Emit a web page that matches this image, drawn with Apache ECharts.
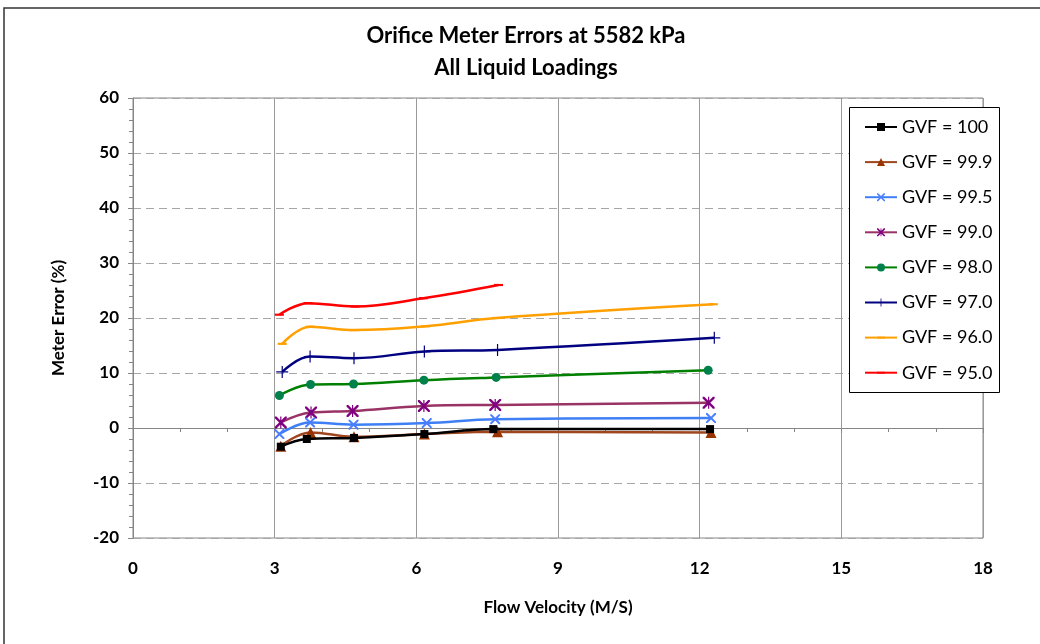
<!DOCTYPE html>
<html>
<head>
<meta charset="utf-8">
<script src="https://cdn.jsdelivr.net/npm/echarts@6/dist/echarts.min.js"></script>
<style>
  html, body { margin: 0; padding: 0; background: #fff; }
  #chart { width: 1040px; height: 644px; }
</style>
</head>
<body>
<div id="chart"></div>
<script>
// Flow velocity (m/s) and meter error (%) for each gas volume fraction
const vel100 = [3.13, 3.68, 4.68, 6.17, 7.63, 12.22];
const err100 = [-3.4, -2.0, -1.8, -1.1, -0.2, -0.2];
const vel999 = [3.13, 3.76, 4.68, 6.17, 7.72, 12.24];
const err999 = [-3.3, -0.8, -1.6, -1.1, -0.7, -0.8];
const vel995 = [3.10, 3.75, 4.67, 6.22, 7.67, 12.24];
const err995 = [-1.1, 1.0, 0.6, 0.9, 1.6, 1.8];
const vel990 = [3.13, 3.77, 4.65, 6.16, 7.67, 12.19];
const err990 = [1.0, 2.8, 3.1, 4.0, 4.2, 4.6];
const vel980 = [3.10, 3.76, 4.67, 6.16, 7.69, 12.18];
const err980 = [5.9, 7.9, 8.0, 8.7, 9.2, 10.5];
const vel970 = [3.16, 3.75, 4.68, 6.17, 7.72, 12.31];
const err970 = [10.2, 13.0, 12.7, 13.9, 14.2, 16.4];
const vel960 = [3.16, 3.75, 4.69, 6.20, 7.70, 12.29];
const err960 = [15.3, 18.4, 17.8, 18.5, 20.0, 22.5];
const vel950 = [3.10, 3.71, 4.70, 6.15, 7.74];
const err950 = [20.6, 22.7, 22.1, 23.6, 26.0];

const seriesNames = ['GVF = 100', 'GVF = 99.9', 'GVF = 99.5', 'GVF = 99.0',
                     'GVF = 98.0', 'GVF = 97.0', 'GVF = 96.0', 'GVF = 95.0'];
const xTicks = [0, 3, 6, 9, 12, 15, 18];
const yTicks = [-20, -10, 0, 10, 20, 30, 40, 50, 60];

// marker outlines
const X_PATH = 'path://M0,0 L1.4,0 L5,3.6 L8.6,0 L10,0 L10,1.4 L6.4,5 L10,8.6 L10,10 L8.6,10 L5,6.4 L1.4,10 L0,10 L0,8.6 L3.6,5 L0,1.4 Z';
const STAR_PATH = 'path://M0,0 L1.4,0 L4.5,3.1 L4.5,0 L5.5,0 L5.5,3.1 L8.6,0 L10,0 L10,1.4 L6.4,5 L10,8.6 L10,10 L8.6,10 L5.5,6.9 L5.5,10 L4.5,10 L4.5,6.9 L1.4,10 L0,10 L0,8.6 L3.6,5 L0,1.4 Z';
const PLUS_PATH = 'path://M4.5,0 L5.5,0 L5.5,4.5 L10,4.5 L10,5.5 L5.5,5.5 L5.5,10 L4.5,10 L4.5,5.5 L0,5.5 L0,4.5 L4.5,4.5 Z';
// short horizontal dash inside a square frame (the moveTo points keep the square bounds)
const DASH_PATH = 'path://M0,0 L0,0 M0,3.8 L10,3.8 L10,6.2 L0,6.2 Z M10,10 L10,10';

function pairs(xs, ys) { return xs.map((x, i) => [x, ys[i]]); }

const styles = [
  { line: '#000000', mark: '#000000', symbol: 'rect', size: 8 },
  { line: '#A0461E', mark: '#993300', symbol: 'triangle', size: 11 },
  { line: '#3F7FF5', mark: '#4A7EFF', symbol: X_PATH, size: 10 },
  { line: '#993366', mark: '#800080', symbol: STAR_PATH, size: 12 },
  { line: '#008000', mark: '#00804A', symbol: 'circle', size: 9 },
  { line: '#000080', mark: '#000080', symbol: PLUS_PATH, size: 12 },
  { line: '#FFA000', mark: '#FFA000', symbol: DASH_PATH, size: 9 },
  { line: '#FF0000', mark: '#FF0000', symbol: DASH_PATH, size: 9 }
];
const dataSets = [
  pairs(vel100, err100), pairs(vel999, err999), pairs(vel995, err995), pairs(vel990, err990),
  pairs(vel980, err980), pairs(vel970, err970), pairs(vel960, err960), pairs(vel950, err950)
];

const FONT = 'Lato, "Open Sans", sans-serif';

const chart = echarts.init(document.getElementById('chart'), null, { renderer: 'canvas' });
chart.setOption({
  animation: false,
  backgroundColor: '#ffffff',
  title: {
    text: 'Orifice Meter Errors at 5582 kPa\nAll Liquid Loadings',
    left: 526, top: 20, textAlign: 'center', padding: 0,
    textStyle: { fontFamily: FONT, fontWeight: 'bold', fontSize: 22, lineHeight: 32, color: '#000' }
  },
  grid: {
    left: 133, top: 98, width: 850, height: 440,
    show: true, borderColor: '#868686', borderWidth: 1, backgroundColor: 'transparent'
  },
  legend: {
    orient: 'vertical', left: 864, top: 117, z: 20, padding: 0,
    itemWidth: 32, itemHeight: 10, itemGap: 15.1,
    data: seriesNames,
    textStyle: { fontFamily: FONT, fontSize: 18, lineHeight: 20, color: '#000' }
  },
  graphic: [
    { type: 'rect', z: 15, shape: { x: 849.5, y: 107.5, width: 150, height: 285 },
      style: { fill: '#fff', stroke: '#000', lineWidth: 1 } },
    { type: 'polyline', z: 15, shape: { points: [[4, 660], [4, 8], [1045, 8]] },
      style: { fill: null, stroke: '#333', lineWidth: 1.5 } }
  ],
  xAxis: {
    type: 'value', min: xTicks[0], max: xTicks[xTicks.length - 1], interval: 3,
    name: 'Flow Velocity (M/S)', nameLocation: 'middle', nameGap: 61,
    nameTextStyle: { fontFamily: FONT, fontWeight: 'bold', fontSize: 17, color: '#000' },
    axisLine: { show: true, lineStyle: { color: '#868686', width: 1 } },
    axisTick: { show: true, length: 5, lineStyle: { color: '#868686' } },
    minorTick: { show: true, splitNumber: 3, length: 4, lineStyle: { color: '#868686' } },
    axisLabel: { margin: 22, fontFamily: FONT, fontWeight: 'bold', fontSize: 17, color: '#000' },
    splitLine: { show: true, lineStyle: { color: '#9a9a9a', width: 1, type: 'solid' } }
  },
  yAxis: {
    type: 'value', min: yTicks[0], max: yTicks[yTicks.length - 1], interval: 10,
    name: 'Meter Error (%)', nameLocation: 'middle', nameGap: 66, nameRotate: 90,
    nameTextStyle: { fontFamily: FONT, fontWeight: 'bold', fontSize: 17, color: '#000' },
    axisLine: { show: true, lineStyle: { color: '#868686', width: 1 } },
    axisTick: { show: true, length: 5, lineStyle: { color: '#868686' } },
    minorTick: { show: true, splitNumber: 5, length: 4, lineStyle: { color: '#868686' } },
    axisLabel: { margin: 14, fontFamily: FONT, fontWeight: 'bold', fontSize: 17, color: '#000' },
    splitLine: { show: true, lineStyle: { color: '#a6a6a6', width: 1, type: [8, 5] } }
  },
  series: dataSets.map((d, i) => ({
    name: seriesNames[i],
    type: 'line',
    data: d,
    smooth: 0.4,
    showSymbol: true,
    symbol: styles[i].symbol,
    symbolSize: styles[i].size,
    lineStyle: { color: styles[i].line, width: 2.5 },
    itemStyle: { color: styles[i].mark, borderWidth: 0 },
    emphasis: { disabled: true },
    z: 3 + (8 - i)
  }))
});
</script>
</body>
</html>
